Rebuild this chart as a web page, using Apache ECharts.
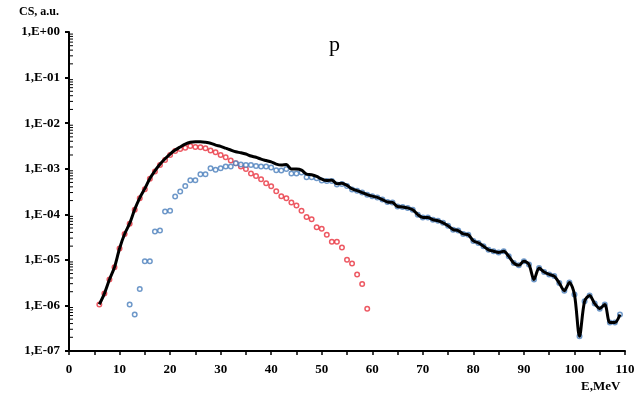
<!DOCTYPE html>
<html>
<head>
<meta charset="utf-8">
<title>p</title>
<script src="https://cdn.jsdelivr.net/npm/echarts@6/dist/echarts.min.js"></script>
<style>
    html, body { margin: 0; padding: 0; background: #fff; }
    #main { width: 638px; height: 394px; }
</style>
</head>
<body>
<div id="main"></div>
<script>
    // E, MeV
    var sumE = [6, 7, 8, 9, 10, 11, 12, 13, 14, 15, 16, 17, 18, 19, 20, 21, 22, 23, 24, 25, 26, 27, 28, 29, 30,
        31, 32, 33, 34, 35, 36, 37, 38, 39, 40, 41, 42, 43, 44, 45, 46, 47, 48, 49, 50, 51, 52, 53, 54, 55, 56,
        57, 58, 59, 60, 61, 62, 63, 64, 65, 66, 67, 68, 69, 70, 71, 72, 73, 74, 75, 76, 77, 78, 79, 80, 81, 82,
        83, 84, 85, 86, 87, 88, 89, 90, 91, 92, 93, 94, 95, 96, 97, 98, 99, 100, 101, 102, 103, 104, 105, 106,
        107, 108, 109];
    // black line
    var sumCS = [1.05e-6, 1.82e-6, 3.7e-6, 6.9e-6, 1.78e-5, 3.7e-5, 6.3e-5, 1.28e-4, 2.3e-4, 3.65e-4, 6.1e-4,
        9.0e-4, 1.25e-3, 1.65e-3, 2.1e-3, 2.57e-3, 3.0e-3, 3.47e-3, 3.8e-3, 3.9e-3, 3.9e-3, 3.8e-3, 3.63e-3,
        3.3e-3, 3.1e-3, 2.82e-3, 2.57e-3, 2.35e-3, 2.24e-3, 2.1e-3, 1.9e-3, 1.78e-3, 1.62e-3, 1.51e-3, 1.41e-3,
        1.26e-3, 1.2e-3, 1.23e-3, 9.8e-4, 9.8e-4, 9.3e-4, 7.6e-4, 7.4e-4, 6.8e-4, 5.9e-4, 5.5e-4, 5.6e-4,
        4.7e-4, 4.8e-4, 4.3e-4, 3.6e-4, 3.3e-4, 3.0e-4, 2.7e-4, 2.5e-4, 2.35e-4, 2.1e-4, 1.86e-4, 1.82e-4,
        1.48e-4, 1.45e-4, 1.38e-4, 1.26e-4, 9.8e-5, 8.5e-5, 8.5e-5, 7.6e-5, 7.2e-5, 6.5e-5, 5.6e-5, 4.6e-5,
        4.4e-5, 3.7e-5, 3.55e-5, 2.6e-5, 2.35e-5, 2.0e-5, 1.66e-5, 1.55e-5, 1.45e-5, 1.55e-5, 1.2e-5, 8.5e-6,
        7.6e-6, 9.3e-6, 7.9e-6, 3.7e-6, 6.6e-6, 5.4e-6, 4.8e-6, 4.4e-6, 3.1e-6, 2.1e-6, 3.2e-6, 1.74e-6,
        2.1e-7, 1.23e-6, 1.66e-6, 1.1e-6, 8.5e-7, 1.05e-6, 4.2e-7, 4.2e-7, 6.3e-7];

    // red circles
    var redE = [6, 7, 8, 9, 10, 11, 12, 13, 14, 15, 16, 17, 18, 19, 20, 21, 22, 23, 24, 25, 26, 27, 28, 29, 30,
        31, 32, 33, 34, 35, 36, 37, 38, 39, 40, 41, 42, 43, 44, 45, 46, 47, 48, 49, 50, 51, 52, 53, 54, 55, 56,
        57, 58, 59];
    var redCS = [1.05e-6, 1.82e-6, 3.7e-6, 6.9e-6, 1.78e-5, 3.7e-5, 6.2e-5, 1.26e-4, 2.24e-4, 3.55e-4, 6.0e-4,
        8.7e-4, 1.2e-3, 1.55e-3, 2.0e-3, 2.45e-3, 2.7e-3, 2.9e-3, 3.16e-3, 3.0e-3, 2.95e-3, 2.82e-3, 2.51e-3,
        2.3e-3, 2.0e-3, 1.78e-3, 1.51e-3, 1.32e-3, 1.12e-3, 9.8e-4, 7.9e-4, 6.9e-4, 5.9e-4, 4.8e-4, 4.1e-4,
        3.2e-4, 2.5e-4, 2.24e-4, 1.82e-4, 1.55e-4, 1.2e-4, 8.7e-5, 7.8e-5, 5.2e-5, 4.8e-5, 3.55e-5, 2.5e-5,
        2.5e-5, 1.86e-5, 1.0e-5, 8.3e-6, 4.8e-6, 2.95e-6, 8.5e-7];

    // blue circles
    var blueE = [12, 13, 14, 15, 16, 17, 18, 19, 20, 21, 22, 23, 24, 25, 26, 27, 28, 29, 30, 31, 32, 33, 34, 35,
        36, 37, 38, 39, 40, 41, 42, 43, 44, 45, 46, 47, 48, 49, 50, 51, 52, 53, 54, 55, 56, 57, 58, 59, 60, 61,
        62, 63, 64, 65, 66, 67, 68, 69, 70, 71, 72, 73, 74, 75, 76, 77, 78, 79, 80, 81, 82, 83, 84, 85, 86, 87,
        88, 89, 90, 91, 92, 93, 94, 95, 96, 97, 98, 99, 100, 101, 102, 103, 104, 105, 106, 107, 108, 109];
    var blueCS = [1.05e-6, 6.3e-7, 2.3e-6, 9.3e-6, 9.3e-6, 4.2e-5, 4.4e-5, 1.15e-4, 1.2e-4, 2.45e-4, 3.16e-4,
        4.2e-4, 5.6e-4, 5.6e-4, 7.6e-4, 7.6e-4, 1.02e-3, 9.5e-4, 1.02e-3, 1.12e-3, 1.12e-3, 1.32e-3, 1.23e-3,
        1.2e-3, 1.2e-3, 1.15e-3, 1.12e-3, 1.12e-3, 1.07e-3, 9.3e-4, 9.1e-4, 9.8e-4, 7.9e-4, 7.9e-4, 8.3e-4,
        6.5e-4, 6.5e-4, 6.2e-4, 5.5e-4, 5.4e-4, 5.4e-4, 4.5e-4, 4.6e-4, 4.2e-4, 3.5e-4, 3.3e-4, 3.0e-4, 2.7e-4,
        2.5e-4, 2.35e-4, 2.1e-4, 1.86e-4, 1.82e-4, 1.48e-4, 1.45e-4, 1.38e-4, 1.26e-4, 9.8e-5, 8.5e-5, 8.5e-5,
        7.6e-5, 7.2e-5, 6.5e-5, 5.6e-5, 4.6e-5, 4.4e-5, 3.7e-5, 3.55e-5, 2.6e-5, 2.35e-5, 2.0e-5, 1.66e-5,
        1.55e-5, 1.45e-5, 1.55e-5, 1.2e-5, 8.5e-6, 7.6e-6, 9.3e-6, 7.9e-6, 3.7e-6, 6.6e-6, 5.4e-6, 4.8e-6,
        4.4e-6, 3.1e-6, 2.1e-6, 3.2e-6, 1.74e-6, 2.1e-7, 1.23e-6, 1.66e-6, 1.1e-6, 8.5e-7, 1.05e-6, 4.2e-7,
        4.2e-7, 6.3e-7];

    // minor tick positions on the log axis (2..9 in every decade)
    var minorTicks = [];
    for (var k = -7; k < 0; k++) {
        for (var m = 2; m <= 9; m++) {
            minorTicks.push([0, m * Math.pow(10, k)]);
        }
    }

    function pairs(xs, ys) {
        var out = [];
        for (var i = 0; i < xs.length; i++) out.push([xs[i], ys[i]]);
        return out;
    }

    var font = '"Liberation Serif", "Times New Roman", serif';

    var myChart = echarts.init(document.getElementById('main'));
    var option = {
        animation: false,
        backgroundColor: '#fff',
        grid: { left: 69, right: 13, top: 32, bottom: 43 },
        graphic: [
            { type: 'text', left: 329, top: 34, style: { text: 'p', font: '22px ' + font, fill: '#000' } },
            { type: 'text', left: 19, top: 6, style: { text: 'CS, a.u.', font: 'bold 12px ' + font, fill: '#000' } },
            { type: 'text', left: 581, top: 380, style: { text: 'E,MeV', font: 'bold 13px ' + font, fill: '#000' } }
        ],
        xAxis: {
            type: 'value',
            min: 0,
            max: 110,
            interval: 10,
            axisLine: { lineStyle: { color: '#000', width: 2 } },
            axisTick: { show: true, length: 4, lineStyle: { color: '#000', width: 1.5 } },
            minorTick: { show: true, splitNumber: 2, length: 4, lineStyle: { color: '#000', width: 1.5 } },
            splitLine: { show: false },
            axisLabel: { color: '#000', fontFamily: font, fontWeight: 'bold', fontSize: 13, margin: 12 }
        },
        yAxis: {
            type: 'log',
            logBase: 10,
            min: 1e-7,
            max: 1,
            axisLine: { show: true, lineStyle: { color: '#000', width: 2 } },
            axisTick: { show: true, length: 4, lineStyle: { color: '#000', width: 2 } },
            splitLine: { show: false },
            axisLabel: {
                color: '#000', fontFamily: font, fontWeight: 'bold', fontSize: 13, margin: 9,
                formatter: function (v) {
                    var e = Math.round(Math.log(v) / Math.LN10);
                    var s = Math.abs(e) < 10 ? '0' + Math.abs(e) : '' + Math.abs(e);
                    return '1,E' + (e < 0 ? '-' : '+') + s;
                }
            }
        },
        series: [
            {
                // minor ticks inside the y axis
                type: 'custom',
                silent: true,
                data: minorTicks,
                renderItem: function (params, api) {
                    var p = api.coord([0, api.value(1)]);
                    return {
                        type: 'line',
                        shape: { x1: p[0], y1: p[1], x2: p[0] + 4, y2: p[1] },
                        style: { stroke: '#000', lineWidth: 1 }
                    };
                }
            },
            {
                name: 'sum',
                type: 'line',
                data: pairs(sumE, sumCS),
                showSymbol: false,
                smooth: 0.3,
                lineStyle: { color: '#000', width: 3 }
            },
            {
                name: 'red',
                type: 'scatter',
                data: pairs(redE, redCS),
                symbol: 'circle',
                symbolSize: 4.5,
                itemStyle: { color: '#fff', borderColor: '#e8303c', borderWidth: 1.5 }
            },
            {
                name: 'blue',
                type: 'scatter',
                data: pairs(blueE, blueCS),
                symbol: 'circle',
                symbolSize: 4.5,
                itemStyle: { color: '#fff', borderColor: '#4a7ebb', borderWidth: 1.5 }
            }
        ]
    };
    myChart.setOption(option);
</script>
</body>
</html>
